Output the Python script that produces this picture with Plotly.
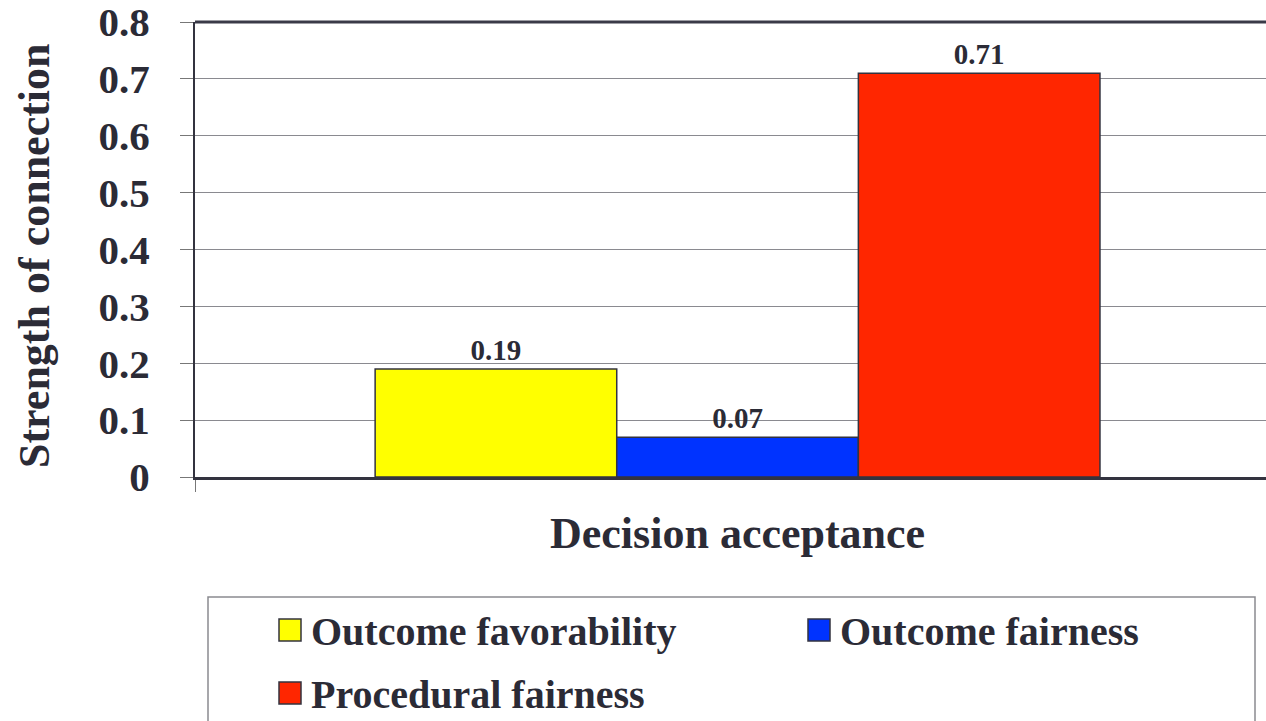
import plotly.graph_objects as go

categories = ["Decision acceptance"]
series_names = ["Outcome favorability", "Outcome fairness", "Procedural fairness"]
series_values = [[0.19], [0.07], [0.71]]
series_colors = ["#FFFF00", "#0033FF", "#FF2600"]
y_ticks = [0, 0.1, 0.2, 0.3, 0.4, 0.5, 0.6, 0.7, 0.8]
y_tick_labels = ["0", "0.1", "0.2", "0.3", "0.4", "0.5", "0.6", "0.7", "0.8"]

FONT = "Liberation Serif, Times New Roman, serif"
TXT = "#2b2b36"
W, H = 1266, 721
L, R, T, B = 195, 0, 22, 244
PW, PH = W - L - R, H - T - B


def px(x):
    return (x - L) / PW


def py(y):
    return (H - B - y) / PH


fig = go.Figure()
for name, vals, col in zip(series_names, series_values, series_colors):
    fig.add_trace(go.Bar(
        x=categories, y=vals, name=name,
        marker=dict(color=col, line=dict(color="#33333f", width=1.5)),
        text=[f"{v:.2f}" for v in vals], textposition="outside",
        textfont=dict(family=FONT, size=29, color=TXT, weight="bold"),
        cliponaxis=False, showlegend=False,
    ))

fig.update_layout(
    width=W, height=H,
    margin=dict(l=L, r=R, t=T, b=B, pad=0),
    paper_bgcolor="white", plot_bgcolor="white",
    barmode="group", bargap=0.332, bargroupgap=0,
    font=dict(family=FONT, color=TXT),
    showlegend=False,
)
fig.update_xaxes(
    range=[-0.5, 0.487], showticklabels=False,
    ticks="outside", tickson="boundaries", ticklen=12, tickcolor="#777",
    showline=True, linecolor="#33333f", linewidth=3, showgrid=False,
    zeroline=False,
)
fig.update_yaxes(
    range=[0, 0.8], tickvals=y_ticks, ticktext=y_tick_labels,
    tickfont=dict(family=FONT, size=41, color=TXT, weight="bold"),
    ticks="outside", ticklen=13, tickcolor="#777", ticklabelstandoff=22,
    ticklabeloverflow="allow",
    showline=True, linecolor="#33333f", linewidth=2,
    showgrid=True, gridcolor="#8a8a90", gridwidth=1, zeroline=False,
)

# top border of plot area
fig.add_shape(type="line", xref="paper", yref="paper", x0=0, x1=1, y0=1, y1=1,
              line=dict(color="#3a3a48", width=3))

# axis titles
fig.add_annotation(xref="paper", yref="paper", x=px(35), y=py(256),
                   text="Strength of connection", textangle=-90, showarrow=False,
                   xanchor="center", yanchor="middle",
                   font=dict(family=FONT, size=44, color=TXT, weight="bold"))
fig.add_annotation(xref="paper", yref="paper", x=px(737), y=py(533),
                   text="Decision acceptance", showarrow=False,
                   xanchor="center", yanchor="middle",
                   font=dict(family=FONT, size=44, color=TXT, weight="bold"))

# legend box
fig.add_shape(type="rect", xref="paper", yref="paper",
              x0=px(208), x1=px(1255), y0=py(740), y1=py(597),
              line=dict(color="#8a8a90", width=1.5), fillcolor="rgba(0,0,0,0)")
legend_pos = [(279, 619), (808, 619), (279, 682)]
for (lx, ly), name, col in zip(legend_pos, series_names, series_colors):
    fig.add_shape(type="rect", xref="paper", yref="paper",
                  x0=px(lx), x1=px(lx + 22), y0=py(ly + 22), y1=py(ly),
                  line=dict(color="#33333f", width=1.5), fillcolor=col)
    fig.add_annotation(xref="paper", yref="paper", x=px(lx + 30), y=py(ly + 12),
                       text=name, showarrow=False, xanchor="left", yanchor="middle",
                       font=dict(family=FONT, size=40, color=TXT, weight="bold"))

fig.write_html(
    "out.html",
    config={"displayModeBar": False},
    post_script="document.body.style.margin='0';document.body.style.overflow='hidden';",
)
